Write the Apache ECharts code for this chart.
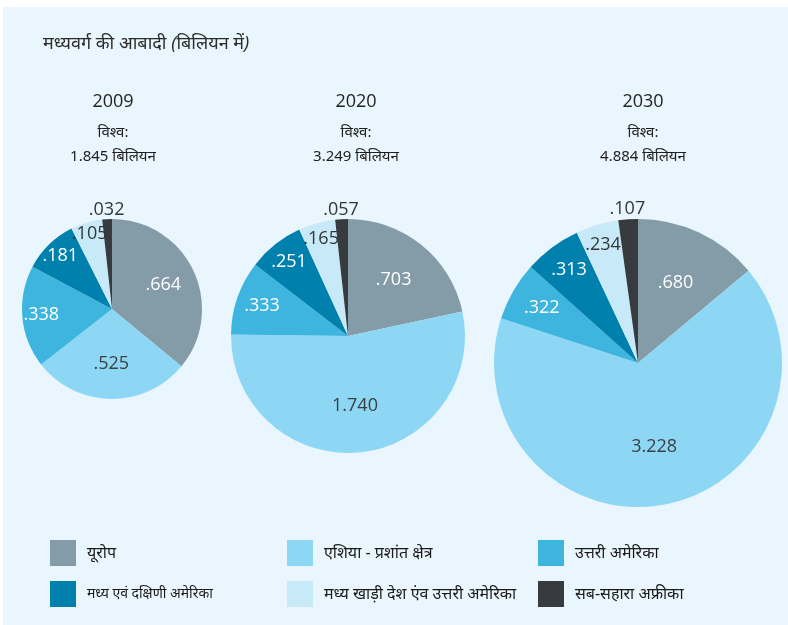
<!DOCTYPE html>
<html>
<head>
<meta charset="utf-8">
<script src="https://cdn.jsdelivr.net/npm/echarts@6/dist/echarts.min.js"></script>
<style>
html,body{margin:0;padding:0;background:#fff;}
#chart{width:788px;height:625px;}
</style>
</head>
<body>
<div id="chart"></div>
<script>
// data
var regions = ['यूरोप', 'एशिया - प्रशांत क्षेत्र', 'उत्तरी अमेरिका', 'मध्य एवं दक्षिणी अमेरिका', 'मध्य खाड़ी देश एंव उत्तरी अमेरिका', 'सब-सहारा अफ्रीका'];
var years = ['2009', '2020', '2030'];
var values2009 = [0.664, 0.525, 0.338, 0.181, 0.105, 0.032];
var values2020 = [0.703, 1.740, 0.333, 0.251, 0.165, 0.057];
var values2030 = [0.680, 3.228, 0.322, 0.313, 0.234, 0.107];
var yearValues = [values2009, values2020, values2030];

var colors = ['#849ba8', '#8dd7f5', '#3db5de', '#0080ad', '#c8e9f8', '#373b3f'];
var labelColors = ['#ffffff', '#3a3f44', '#ffffff', '#ffffff', '#33373a', '#33373a'];
// how far out each label sits, as a share of the radius
var labelReach = [0.59, 0.57, 0.74, 0.77, 0.82, 1.03];

var pies = [
    {center: [112, 309], radius: 90, titleX: 113},
    {center: [348, 336], radius: 117, titleX: 356},
    {center: [638, 363], radius: 144, titleX: 643}
];

var numFont = '"Open Sans", "Noto Sans", sans-serif';
var hiFont = '"Noto Sans", "Noto Sans Devanagari", sans-serif';

function fmt(v) {
    return v.toFixed(3).replace(/^0/, '');
}

var titles = [{
    text: 'मध्यवर्ग की आबादी (बिलियन में)',
    left: 38,
    top: 30,
    textStyle: {fontFamily: hiFont, fontStyle: 'italic', fontWeight: 'normal', fontSize: 18, color: '#2b2b2b'}
}];
var series = [];

years.forEach(function (y, i) {
    var vals = yearValues[i];
    var total = vals.reduce(function (a, b) { return a + b; }, 0);
    titles.push({
        text: y,
        subtext: 'विश्व:\n' + total.toFixed(3) + ' बिलियन',
        left: pies[i].titleX,
        top: 93,
        padding: 0,
        textAlign: 'center',
        itemGap: 10,
        textStyle: {fontFamily: numFont, fontWeight: 'normal', fontSize: 18, color: '#222'},
        subtextStyle: {fontFamily: hiFont, fontSize: 15, color: '#1e1e1e', lineHeight: 24}
    });
    series.push({
        name: y,
        type: 'pie',
        center: pies[i].center,
        radius: [0, pies[i].radius],
        startAngle: 90,
        clockwise: true,
        avoidLabelOverlap: false,
        silent: true,
        itemStyle: {borderWidth: 0},
        label: {
            show: true,
            position: 'inside',
            fontFamily: numFont,
            fontSize: 18,
            formatter: function (p) { return fmt(p.value); }
        },
        labelLine: {show: false},
        labelLayout: function (params) {
            var c = pies[params.seriesIndex].center;
            var lr = params.labelRect;
            var lx = lr.x + lr.width / 2;
            var ly = lr.y + lr.height / 2;
            var k = labelReach[params.dataIndex] / 0.5 - 1;
            return {dx: (lx - c[0]) * k, dy: (ly - c[1]) * k};
        },
        data: regions.map(function (r, j) {
            return {
                name: r,
                value: vals[j],
                itemStyle: {color: colors[j]},
                label: {color: labelColors[j]}
            };
        })
    });
});

function legendCol(left, items) {
    return {
        orient: 'vertical',
        left: left,
        top: 540,
        padding: 0,
        icon: 'rect',
        itemWidth: 26,
        itemHeight: 26,
        itemGap: 15,
        selectedMode: false,
        textStyle: {fontFamily: hiFont, fontSize: 16, color: '#1a1a1a', padding: [0, 0, 0, 6]},
        data: items
    };
}

var option = {
    backgroundColor: '#ffffff',
    animation: false,
    color: colors,
    graphic: [{
        type: 'rect',
        z: -10,
        shape: {x: 3, y: 7, width: 785, height: 618},
        style: {fill: '#eaf6fd'}
    }],
    title: titles,
    legend: [
        legendCol(50, [regions[0], {name: regions[3], textStyle: {fontSize: 14}}]),
        legendCol(287, [regions[1], regions[4]]),
        legendCol(538, [regions[2], regions[5]])
    ],
    series: series
};

var chart = echarts.init(document.getElementById('chart'));
chart.setOption(option);
</script>
</body>
</html>
